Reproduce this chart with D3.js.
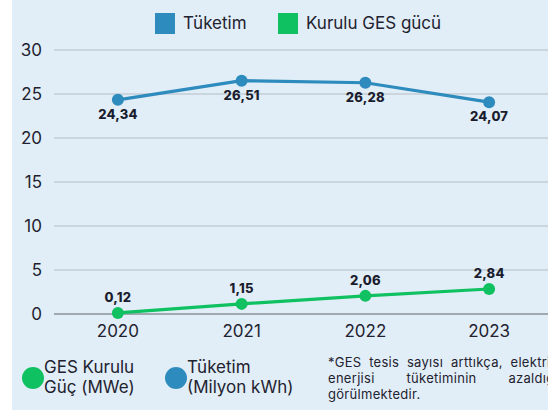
<!DOCTYPE html>
<html>
<head>
<meta charset="utf-8">
<script src="https://cdn.jsdelivr.net/npm/d3@7"></script>
<style>
  body { margin: 0; background: #fff; }
  svg { display: block; font-family: Inter, "Noto Sans", sans-serif; }
</style>
</head>
<body>
<svg width="548" height="410"></svg>
<script>
var years = ["2020", "2021", "2022", "2023"];
var tuketim = [24.34, 26.51, 26.28, 24.07];
var gesGuc = [0.12, 1.15, 2.06, 2.84];
var yTicks = [0, 5, 10, 15, 20, 25, 30];
var noteLines = [
  "*GES tesis sayısı arttıkça, elektrik",
  "enerjisi tüketiminin azaldığı",
  "görülmektedir."
];

var blue = "#2e8bbd", green = "#0fc160", ink = "#1f2230", labelInk = "#1b1d2e";

var svg = d3.select("svg");

svg.append("rect")
    .attr("x", 12).attr("y", 0)
    .attr("width", 536).attr("height", 410)
    .attr("fill", "#e1eef7");

var x = d3.scalePoint()
    .domain(years)
    .range([56, 551])
    .padding(0.5);

var y = d3.scaleLinear()
    .domain([0, 30])
    .range([314, 50]);

// grid
svg.append("g").selectAll("line")
    .data(yTicks)
  .enter().append("line")
    .attr("x1", 54).attr("x2", 548)
    .attr("y1", function(d) { return y(d); })
    .attr("y2", function(d) { return y(d); })
    .attr("stroke", function(d) { return d === 0 ? "#8a9099" : "#b3bcc4"; })
    .attr("stroke-width", function(d) { return d === 0 ? 1.3 : 1; });

// y axis labels
svg.append("g").selectAll("text")
    .data(yTicks)
  .enter().append("text")
    .attr("x", 42)
    .attr("y", function(d) { return y(d); })
    .attr("dy", "0.36em")
    .attr("text-anchor", "end")
    .attr("font-size", 17)
    .attr("fill", ink)
    .text(function(d) { return d; });

// x axis labels
svg.append("g").selectAll("text")
    .data(years)
  .enter().append("text")
    .attr("x", function(d) { return x(d); })
    .attr("y", 337)
    .attr("text-anchor", "middle")
    .attr("font-size", 17)
    .attr("fill", ink)
    .text(function(d) { return d; });

var series = [
  {key: "tuketim", values: tuketim, color: blue, below: true},
  {key: "ges", values: gesGuc, color: green, below: false}
];

var line = d3.line()
    .x(function(d, i) { return x(years[i]); })
    .y(function(d) { return y(d); });

var fmt = function(v) { return v.toFixed(2).replace(".", ","); };

series.forEach(function(s) {
  var g = svg.append("g");
  g.append("path")
      .attr("d", line(s.values))
      .attr("fill", "none")
      .attr("stroke", s.color)
      .attr("stroke-width", 3.2);
  g.selectAll("circle")
      .data(s.values)
    .enter().append("circle")
      .attr("cx", function(d, i) { return x(years[i]); })
      .attr("cy", function(d) { return y(d); })
      .attr("r", 6)
      .attr("fill", s.color);
  g.selectAll("text")
      .data(s.values)
    .enter().append("text")
      .attr("x", function(d, i) { return x(years[i]); })
      .attr("y", function(d) { return s.below ? y(d) + 19 : y(d) - 11; })
      .attr("text-anchor", "middle")
      .attr("font-size", 13)
      .attr("font-weight", 800)
      .attr("letter-spacing", 0.2)
      .attr("fill", labelInk)
      .text(fmt);
});

// top legend
var topLegend = [
  {name: "Tüketim", color: blue, x: 155},
  {name: "Kurulu GES gücü", color: green, x: 278}
];
var tl = svg.append("g").selectAll("g")
    .data(topLegend)
  .enter().append("g")
    .attr("transform", function(d) { return "translate(" + d.x + ",13)"; });
tl.append("rect")
    .attr("width", 20).attr("height", 21)
    .attr("fill", function(d) { return d.color; });
tl.append("text")
    .attr("x", 28).attr("y", 16)
    .attr("font-size", 17)
    .attr("fill", ink)
    .text(function(d) { return d.name; });

// bottom legend
var bottomLegend = [
  {lines: ["GES Kurulu", "Güç (MWe)"], color: green, x: 33},
  {lines: ["Tüketim", "(Milyon kWh)"], color: blue, x: 176}
];
var bl = svg.append("g").selectAll("g")
    .data(bottomLegend)
  .enter().append("g")
    .attr("transform", function(d) { return "translate(" + d.x + ",378)"; });
bl.append("circle")
    .attr("r", 11)
    .attr("fill", function(d) { return d.color; });
bl.append("text")
    .attr("font-size", 17)
    .attr("fill", ink)
    .selectAll("tspan")
    .data(function(d) { return d.lines; })
  .enter().append("tspan")
    .attr("x", 11)
    .attr("y", function(d, i) { return -5 + i * 20; })
    .text(function(d) { return d; });

// note, justified
var noteX = 328, noteW = 230;
var note = svg.append("g")
    .attr("font-size", 13)
    .attr("letter-spacing", 0.3)
    .attr("fill", ink);
noteLines.forEach(function(ln, li) {
  var words = ln.split(" ");
  var ty = 367 + li * 16;
  var nodes = words.map(function(w) {
    return note.append("text").attr("y", ty).text(w);
  });
  var widths = nodes.map(function(n) { return n.node().getComputedTextLength(); });
  var last = li === noteLines.length - 1;
  var gap = last ? 3.5 : (noteW - d3.sum(widths)) / (words.length - 1);
  var cx = noteX;
  nodes.forEach(function(n, i) {
    n.attr("x", cx);
    cx += widths[i] + gap;
  });
});
</script>
</body>
</html>
